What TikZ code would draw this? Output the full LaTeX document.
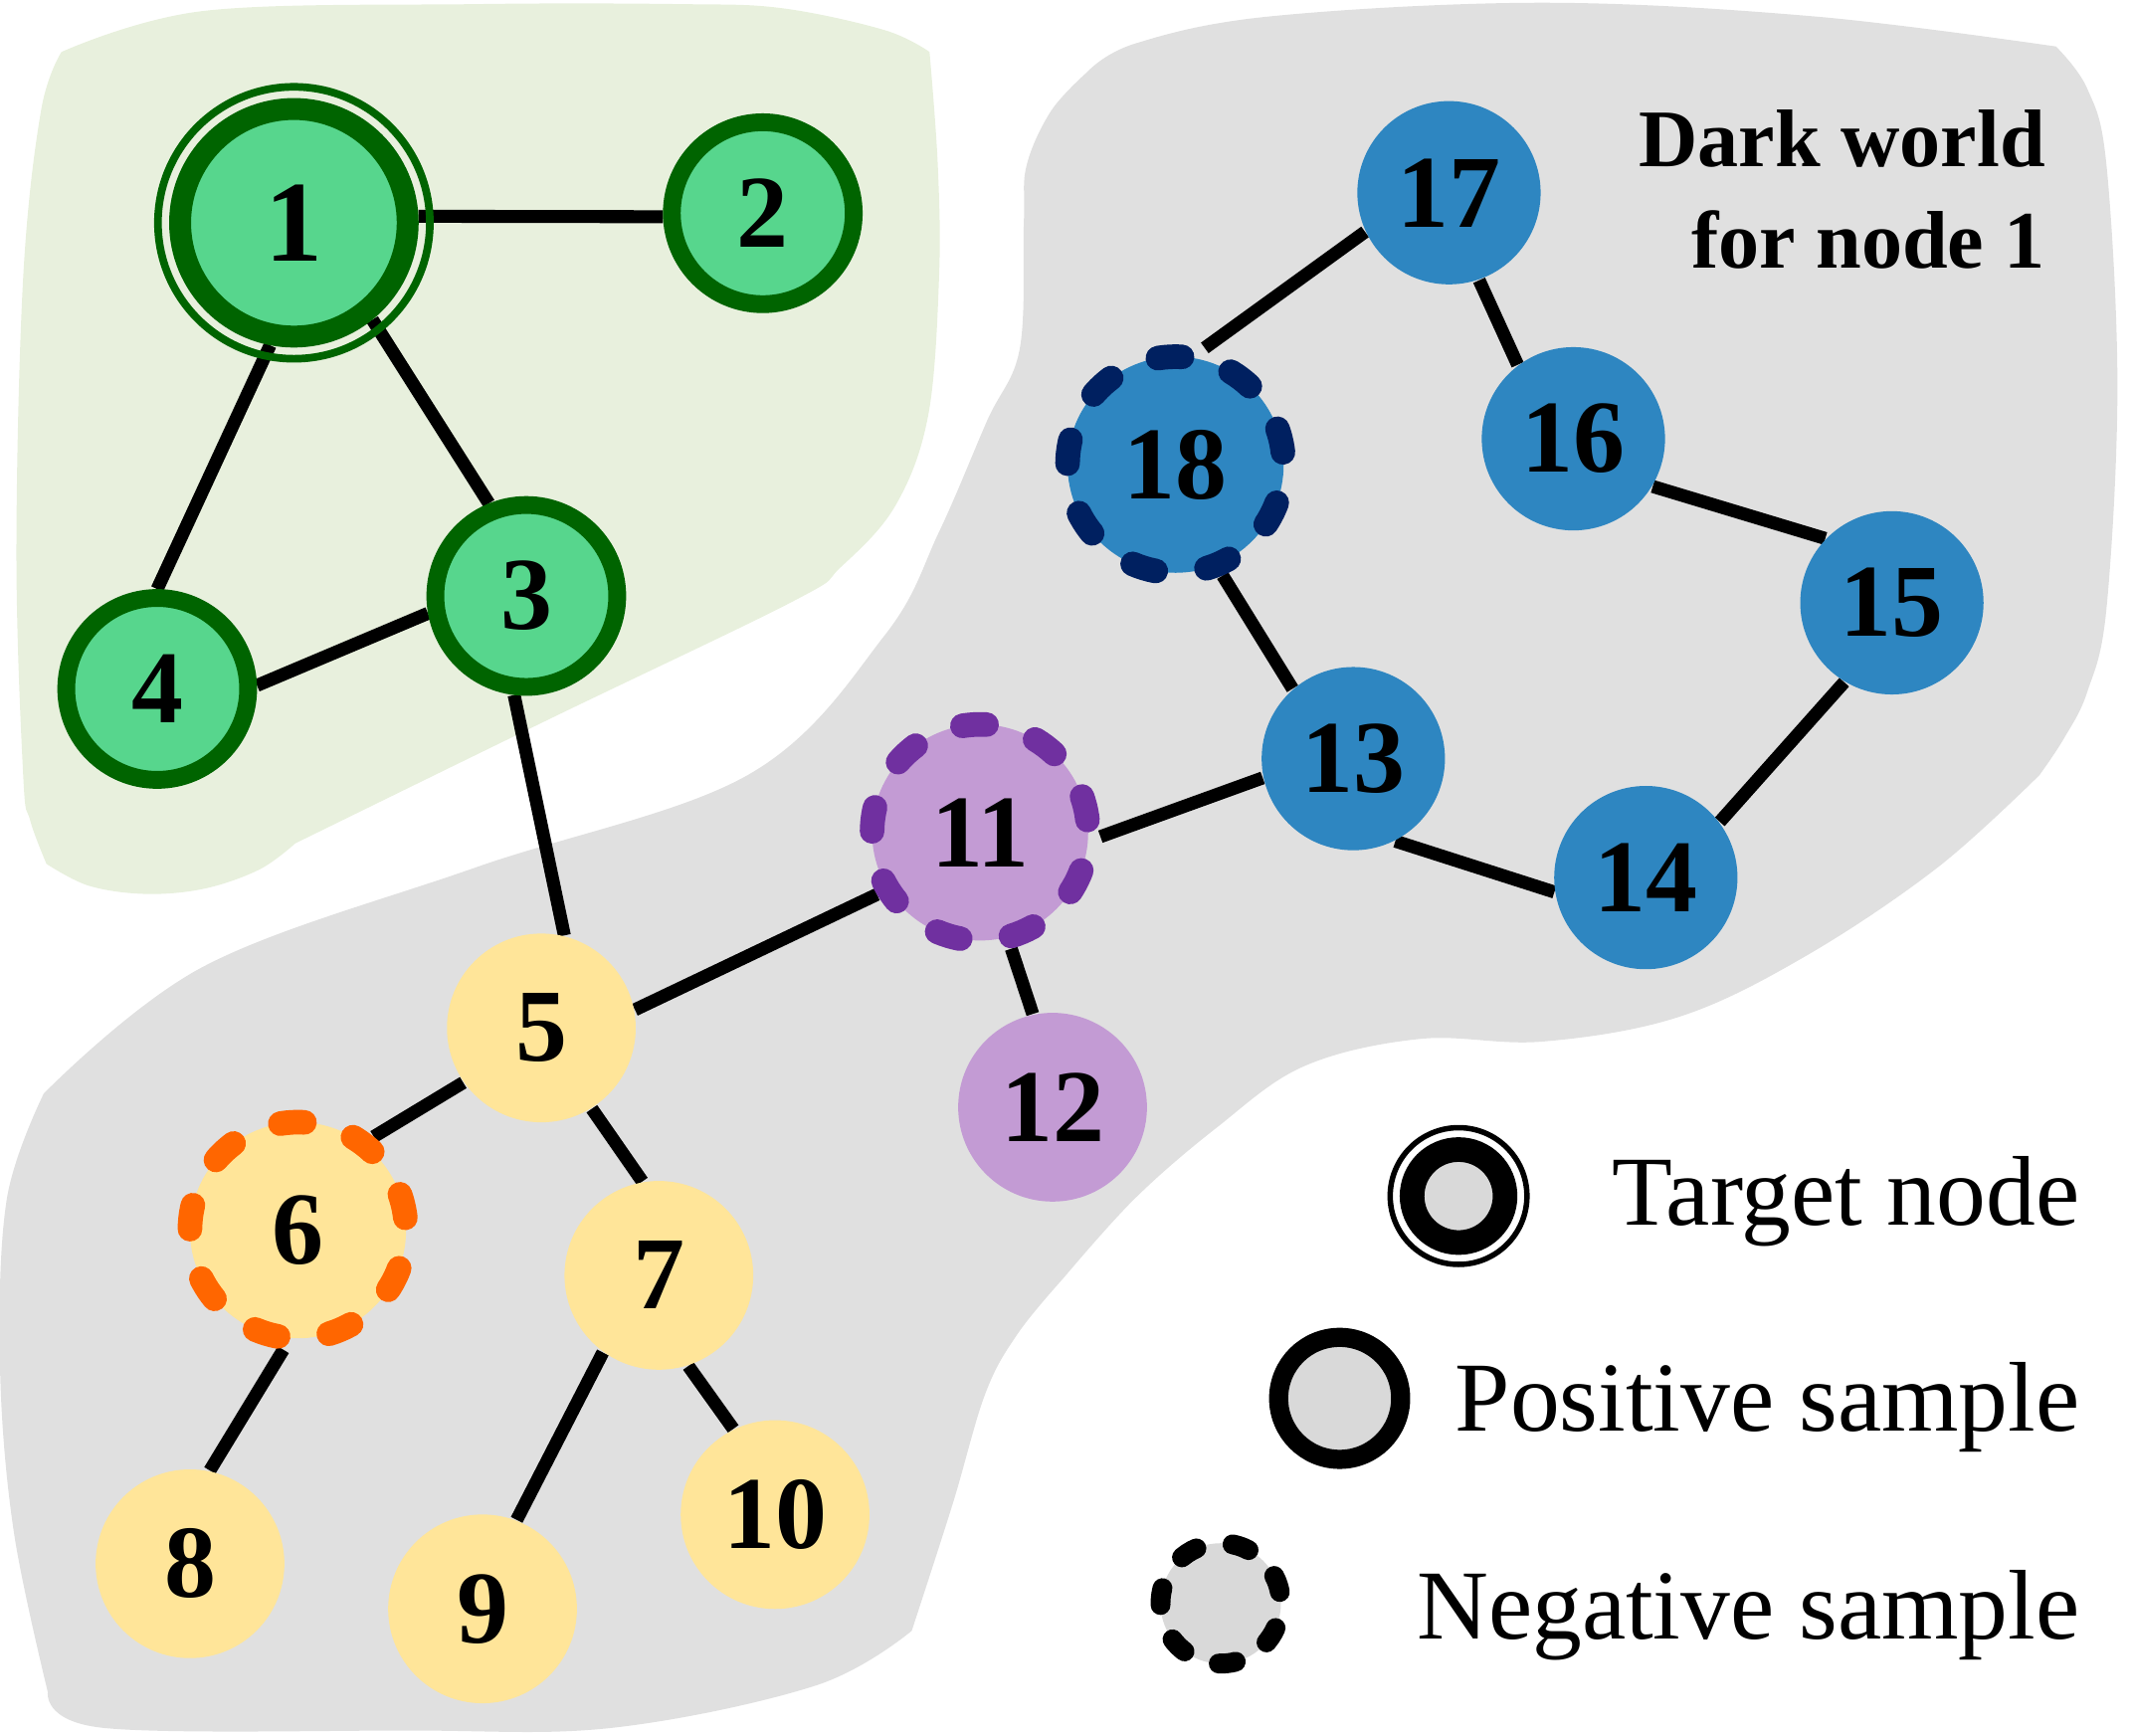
\documentclass[tikz,border=0pt]{standalone}
\usepackage{fontspec}
\setmainfont{Liberation Serif}
\pgfdeclarelayer{bg}
\pgfdeclarelayer{edgel}
\pgfsetlayers{bg,edgel,main}
\definecolor{gbg}{RGB}{232,240,221}
\definecolor{greybg}{RGB}{224,224,224}
\definecolor{gfill}{RGB}{87,214,141}
\definecolor{gring}{RGB}{0,100,0}
\definecolor{yfill}{RGB}{255,229,153}
\definecolor{oring}{RGB}{255,102,0}
\definecolor{pfill}{RGB}{195,155,212}
\definecolor{pring}{RGB}{112,48,160}
\definecolor{bfill}{RGB}{46,134,193}
\definecolor{bring}{RGB}{0,32,96}
\definecolor{lgrey}{RGB}{217,217,217}
\begin{document}
\begin{tikzpicture}[x=0.01cm,y=-0.01cm,
  lbl/.style={font=\fontsize{21.5}{24}\selectfont\bfseries},
  plain/.style={circle, minimum size=1.38cm, inner sep=0pt, lbl},
  bluen/.style={circle, minimum size=1.34cm, inner sep=0pt, fill=bfill, lbl},
  ringed/.style={circle, minimum size=1.33cm, inner sep=0pt, fill=gfill, draw=gring, line width=0.13cm, lbl},
  dashring/.style={circle, minimum size=1.58cm, inner sep=0pt, line width=0.18cm, line cap=round, dash pattern=on 0.177cm off 0.3745cm, dash phase=0.4605cm, lbl},
  edge/.style={line width=0.095cm, draw=black},
  legtext/.style={anchor=base east, inner sep=0pt, font=\fontsize{20.6}{24}\selectfont},
  titletext/.style={anchor=base east, inner sep=0pt, font=\fontsize{17}{21}\selectfont\bfseries}
]
\useasboundingbox (0,0) rectangle (1560.4,1269.3);

% nodes
\node[circle, minimum size=1.664cm, inner sep=0pt, fill=gfill, draw=gring, line width=0.16cm, font=\fontsize{24}{26}\selectfont\bfseries] (n1) at (215,163) {1};
\node[circle, minimum size=1.988cm, inner sep=0pt, draw=gring, line width=0.056cm] (n1o) at (215,163) {};
\node[ringed] (n2) at (558,156) {2};
\node[ringed] (n3) at (385,436) {3};
\node[ringed] (n4) at (115,504) {4};
\node[plain, fill=yfill] (n5) at (396,752) {5};
\node[dashring, fill=yfill, draw=oring] (n6) at (218,900) {6};
\node[plain, fill=yfill] (n7) at (482,933) {7};
\node[plain, fill=yfill] (n8) at (139,1144) {8};
\node[plain, fill=yfill] (n9) at (353,1177) {9};
\node[plain, fill=yfill] (n10) at (567,1108) {10};
\node[dashring, fill=pfill, draw=pring] (n11) at (717,609) {11};
\node[plain, fill=pfill] (n12) at (770,810) {12};
\node[bluen] (n13) at (990,555) {13};
\node[bluen] (n14) at (1204,642) {14};
\node[bluen] (n15) at (1384,441) {15};
\node[bluen] (n16) at (1151,321) {16};
\node[bluen] (n17) at (1060,141) {17};
\node[dashring, fill=bfill, draw=bring] (n18) at (860,340) {18};

% legend
\node[circle, minimum size=1.0cm, inner sep=0pt, draw=black, line width=0.04cm] (tgo) at (1067,875) {};
\node[circle, minimum size=0.68cm, inner sep=0pt, draw=black, fill=lgrey, line width=0.18cm] (tg) at (1067,875) {};
\node[circle, minimum size=0.892cm, inner sep=0pt, draw=black, fill=lgrey, line width=0.14cm] (pos) at (980,1023) {};
\node[circle, minimum size=0.88cm, inner sep=0pt, draw=black, fill=lgrey, line width=0.145cm, line cap=round, dash pattern=on 0.125cm off 0.27cm, dash phase=0.311cm] (neg) at (893,1173) {};
\node[legtext] (tt) at (1522,896) {Target node};
\node[legtext] (pt) at (1522,1047) {Positive sample};
\node[legtext] (nt) at (1522,1199) {Negative sample};
\node[titletext] (d1) at (1497,122) {Dark world};
\node[titletext] (d2) at (1497,196) {for node 1};

\begin{pgfonlayer}{bg}
\fill[gbg] plot[smooth, tension=0.6] coordinates {(45,38) (149,8) (348,3) (498,3) (572,6) (647,22) (680,38)}
  -- plot[smooth, tension=0.6] coordinates {(680,38) (686,120) (687,202) (679,304) (655,370) (615,415) (580,440) (400,527) (216,617)}
  -- plot[smooth, tension=0.6] coordinates {(216,617) (190,636) (150,650) (107,654) (65,648) (34,632)}
  -- plot[smooth, tension=0.6] coordinates {(34,632) (22,600) (17,568) (12,405) (17,202) (30,81) (45,38)} -- cycle;
\fill[greybg] plot[smooth, tension=0.6] coordinates {(795,53) (830,32) (929,12) (1128,2) (1327,12) (1504,34)}
  -- plot[smooth, tension=0.6] coordinates {(1504,34) (1527,65) (1541,121) (1549,283) (1541,445) (1527,506) (1510,540) (1492,567)}
  -- plot[smooth, tension=0.6] coordinates {(1492,567) (1417,635) (1320,700) (1228,744) (1128,762) (1039,760) (954,780) (890,825) (830,877) (778,935)}
  -- plot[smooth, tension=0.6] coordinates {(778,935) (745,975) (721,1019) (697,1100) (667,1193)}
  -- plot[smooth, tension=0.6] coordinates {(667,1193) (597,1233) (448,1264) (298,1266) (75,1264) (35,1238)}
  -- plot[smooth, tension=0.6] coordinates {(35,1238) (10,1120) (0,999) (5,877) (32,800)}
  -- plot[smooth, tension=0.6] coordinates {(32,800) (149,707) (348,634.6) (547,567) (647,465) (687,389) (722,308) (746,255) (749,162) (751,121) (769,81) (795,53)} -- cycle;
\end{pgfonlayer}

\begin{pgfonlayer}{edgel}
\draw[edge] (n1.3) -- (n2.182);
\draw[edge] (n1.259) -- (n4.90);
\draw[edge] (n1.309) -- (n3.112);
\draw[edge] (n3.190) -- (n4.2);
\draw[edge] (n3.263) -- (n5.76);
\draw[edge] (n5.11) -- (n11.211);
\draw[edge] (n5.215) -- (n6.51);
\draw[edge] (n5.302) -- (n7.100);
\draw[edge] (n6.263) -- (n8.78);
\draw[edge] (n7.234) -- (n9.69);
\draw[edge] (n7.288) -- (n10.116);
\draw[edge] (n11.285) -- (n12.102);
\draw[edge] (n11.358) -- (n13.192);
\draw[edge] (n13.131) -- (n18.293);
\draw[edge] (n13.297) -- (n14.189);
\draw[edge] (n14.37) -- (n15.239);
\draw[edge] (n15.136) -- (n16.329);
\draw[edge] (n16.127) -- (n17.289);
\draw[edge] (n17.205) -- (n18.76);
\end{pgfonlayer}
\end{tikzpicture}
\end{document}
